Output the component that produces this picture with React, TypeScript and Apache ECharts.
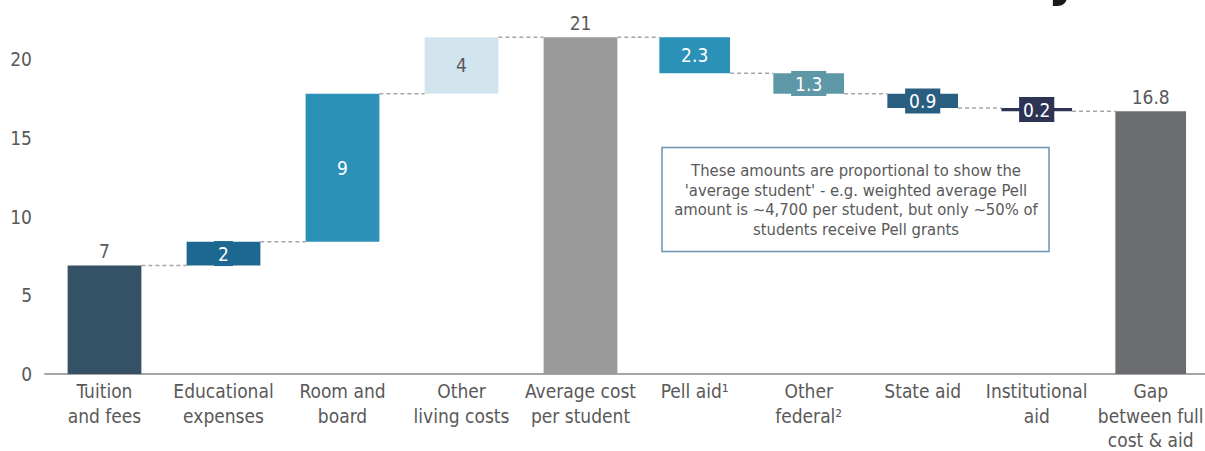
import React, { useEffect, useRef } from "react";
import * as echarts from "echarts";

// ---- data ----
const categories = [
  "Tuition\nand fees",
  "Educational\nexpenses",
  "Room and\nboard",
  "Other\nliving costs",
  "Average cost\nper student",
  "Pell aid¹",
  "Other\nfederal²",
  "State aid",
  "Institutional\naid",
  "Gap\nbetween full\ncost & aid",
];
const stepKinds = ["add", "add", "add", "add", "total", "sub", "sub", "sub", "sub", "total"];
const amounts = [6.9, 1.5, 9.4, 3.6, 21.4, 2.3, 1.3, 0.9, 0.2, 16.7];
const valueLabels = ["7", "2", "9", "4", "21", "2.3", "1.3", "0.9", "0.2", "16.8"];
const yAxisMax = 22;
const yInterval = 5;
const noteLines = [
  "These amounts are proportional to show the",
  "'average student' - e.g. weighted average Pell",
  "amount is ~4,700 per student, but only ~50% of",
  "students receive Pell grants",
];

// ---- styles ----
const FONT = "'DejaVu Sans Condensed', 'DejaVu Sans', sans-serif";
const TEXT = "#595959";
const barColors = [
  "#345166", "#1c6890", "#2b91b7", "#d2e5ee", "#9b9b9b",
  "#2b91b7", "#5e98a7", "#2a5e80", "#2c3355", "#6b6c70",
];
const labelModes = ["top", "inside", "inside", "insideDark", "top", "inside", "inside", "inside", "inside", "top"];

export default function App() {
  const ref = useRef<HTMLDivElement>(null);

  useEffect(() => {
    if (!ref.current) return;
    const chart = echarts.init(ref.current, undefined, { renderer: "svg" });

    const bases: number[] = [];
    const levels: number[] = [];
    let run = 0;
    amounts.forEach((a, i) => {
      const k = stepKinds[i];
      if (k === "add") {
        bases.push(run);
        run += a;
      } else if (k === "sub") {
        run -= a;
        bases.push(run);
      } else {
        bases.push(0);
        run = a;
      }
      levels.push(Math.round(run * 100) / 100);
    });

    const split = 5;
    const halves = [
      categories.map((_, i) => i).filter((i) => i < split),
      categories.map((_, i) => i).filter((i) => i >= split),
    ];

    const connectorData: number[][][] = [[], []];
    for (let i = 0; i < categories.length - 1; i++) {
      const h1 = i < split ? 0 : 1;
      const h2 = i + 1 < split ? 0 : 1;
      const li = h1 === 0 ? i : i - split;
      if (h1 === h2) {
        connectorData[h1].push([li, levels[i], 0]);
      } else {
        connectorData[h1].push([li, levels[i], 1]);
        connectorData[h2].push([0, levels[i], 2]);
      }
    }

    const labelFor = (i: number) => {
      const mode = labelModes[i];
      const base = {
        show: true,
        formatter: valueLabels[i],
        fontSize: 19,
        fontFamily: FONT,
      };
      if (mode === "top") {
        return { ...base, position: "top", distance: 5, color: TEXT };
      }
      return {
        ...base,
        position: "inside",
        color: mode === "insideDark" ? TEXT : "#ffffff",
        backgroundColor: barColors[i],
        padding: [3, 4],
        lineHeight: 19,
      };
    };

    const series: any[] = [];
    halves.forEach((idxs, h) => {
      series.push({
        type: "bar",
        xAxisIndex: h,
        yAxisIndex: h,
        stack: "w" + h,
        barWidth: "62%",
        silent: true,
        itemStyle: { color: "transparent" },
        data: idxs.map((i) => bases[i]),
      });
      series.push({
        type: "bar",
        xAxisIndex: h,
        yAxisIndex: h,
        stack: "w" + h,
        barWidth: "62%",
        data: idxs.map((i) => ({
          value: amounts[i],
          itemStyle: { color: barColors[i] },
          label: labelFor(i),
        })),
      });
      series.push({
        type: "custom",
        xAxisIndex: h,
        yAxisIndex: h,
        silent: true,
        data: connectorData[h],
        renderItem: (params: any, api: any) => {
          const i = api.value(0);
          const lvl = api.value(1);
          const mode = api.value(2);
          const cs = params.coordSys;
          const half = api.size([1, 0])[0] * 0.31;
          const p = api.coord([i, lvl]);
          let x1: number;
          let x2: number;
          if (mode === 0) {
            x1 = p[0] + half;
            x2 = api.coord([i + 1, lvl])[0] - half;
          } else if (mode === 1) {
            x1 = p[0] + half;
            x2 = cs.x + cs.width;
          } else {
            x1 = cs.x;
            x2 = p[0] - half;
          }
          return {
            type: "line",
            shape: { x1, y1: p[1], x2, y2: p[1] },
            style: { stroke: "#a6a6a6", lineWidth: 1.5, lineDash: [4, 3] },
          };
        },
      });
    });

    const gridTop = 27.7;
    const gridBottom = 77;

    const xAxisCommon = {
      type: "category",
      axisLine: { show: true, lineStyle: { color: "#a6a6a6", width: 2 } },
      axisTick: { show: false },
      axisLabel: {
        interval: 0,
        fontSize: 19,
        lineHeight: 24.5,
        color: TEXT,
        margin: 5,
        fontFamily: FONT,
      },
    };

    const yAxisCommon = {
      type: "value",
      min: 0,
      max: yAxisMax,
      interval: yInterval,
      axisLine: { show: false },
      axisTick: { show: false },
      splitLine: { show: false },
    };

    chart.setOption({
      animation: false,
      textStyle: { fontFamily: FONT },
      grid: [
        { left: 45, top: gridTop, width: 595, bottom: gridBottom, containLabel: false, outerBoundsMode: "none" },
        { left: 637.7, top: gridTop, width: 570, bottom: gridBottom, containLabel: false, outerBoundsMode: "none" },
      ],
      xAxis: [
        { ...xAxisCommon, gridIndex: 0, data: halves[0].map((i) => categories[i]) },
        { ...xAxisCommon, gridIndex: 1, data: halves[1].map((i) => categories[i]) },
      ],
      yAxis: [
        {
          ...yAxisCommon,
          gridIndex: 0,
          axisLabel: {
            show: true,
            showMaxLabel: false,
            fontSize: 19,
            color: TEXT,
            margin: 13,
            fontFamily: FONT,
          },
        },
        { ...yAxisCommon, gridIndex: 1, show: false },
      ],
      series,
      graphic: [
        {
          type: "rect",
          shape: { x: 662, y: 147.5, width: 387, height: 104 },
          style: { fill: "#ffffff", stroke: "#6e93ad", lineWidth: 1.5 },
          z: 10,
        },
        {
          type: "text",
          x: 856,
          y: 200,
          z: 11,
          style: {
            text: noteLines.join("\n"),
            fontSize: 16.5,
            lineHeight: 19.7,
            fill: TEXT,
            align: "center",
            verticalAlign: "middle",
            fontFamily: FONT,
          },
        },
        {
          type: "text",
          x: 1048,
          y: 3,
          style: {
            text: "y",
            fontSize: 54,
            fontWeight: "bold",
            fill: "#1a1a1a",
            align: "left",
            verticalAlign: "bottom",
            fontFamily: FONT,
          },
        },
      ],
    });

    return () => chart.dispose();
  }, []);

  return (
    <div
      ref={ref}
      style={{ position: "absolute", left: 0, top: 0, width: 1205, height: 451 }}
    />
  );
}
